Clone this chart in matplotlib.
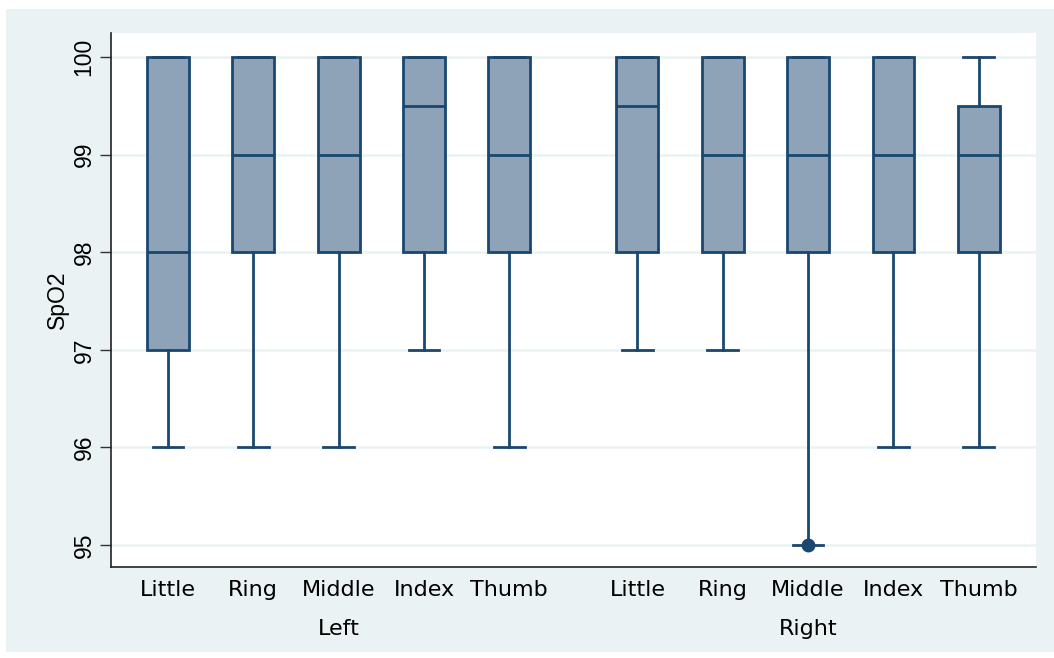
import matplotlib
matplotlib.use("Agg")
import matplotlib.pyplot as plt
from matplotlib.patches import Rectangle

plt.rcParams["font.family"] = ["Liberation Sans", "DejaVu Sans"]

# finger SpO2 summaries: (lower whisker, q1, median, q3, upper whisker)
fingers = ["Little", "Ring", "Middle", "Index", "Thumb"]
groups = ["Left", "Right"]
whislo = [96, 96, 96, 97, 96, 97, 97, 95, 96, 96]
q1 = [97, 98, 98, 98, 98, 98, 98, 98, 98, 98]
med = [98, 99, 99, 99.5, 99, 99.5, 99, 99, 99, 99]
q3 = [100, 100, 100, 100, 100, 100, 100, 100, 100, 99.5]
whishi = [100, 100, 100, 100, 100, 100, 100, 100, 100, 100]
fliers = [[], [], [], [], [], [], [], [95], [], []]
yticks = [95, 96, 97, 98, 99, 100]

positions = [1, 2, 3, 4, 5, 6.5, 7.5, 8.5, 9.5, 10.5]
navy = "#1A476F"
fill = "#8EA3B8"
bg = "#EAF2F3"
wide = ["DejaVu Sans"]  # reference text along x looks stretched, wider face fits

fig = plt.figure(figsize=(10.54, 6.58), dpi=100)
fig.patch.set_facecolor("white")
fig.patches.append(Rectangle((6 / 1054, 1 - 652 / 658), 1, (652 - 9) / 658,
                             transform=fig.transFigure, facecolor=bg,
                             edgecolor="none", zorder=-10))

ax = fig.add_axes([111 / 1054, 1 - 567 / 658, (1036 - 111) / 1054, (567 - 33) / 658])
ax.set_facecolor("white")

stats = []
for i in range(len(positions)):
    stats.append(dict(whislo=whislo[i], q1=q1[i], med=med[i], q3=q3[i],
                      whishi=whishi[i], fliers=fliers[i]))

lw = 2.0
ax.bxp(stats, positions=positions, widths=0.49, capwidths=0.36,
       patch_artist=True, showfliers=True,
       boxprops=dict(facecolor=fill, edgecolor=navy, linewidth=lw),
       medianprops=dict(color=navy, linewidth=lw),
       whiskerprops=dict(color=navy, linewidth=lw),
       capprops=dict(color=navy, linewidth=lw),
       flierprops=dict(marker="o", markerfacecolor=navy, markeredgecolor=navy,
                       markersize=9))

ax.set_xlim(0.333, 11.17)
ax.set_ylim(94.775, 100.246)
ax.set_yticks(yticks)
ax.set_yticklabels([str(v) for v in yticks], rotation=90, va="center", fontsize=16.5)
ax.yaxis.grid(True, color=bg, linewidth=1.8)
ax.set_axisbelow(True)
ax.tick_params(axis="y", length=8, width=1, color="#333333", pad=3)
ax.tick_params(axis="x", length=0, pad=9)
ax.set_xticks(positions)
ax.set_xticklabels(fingers * 2, fontsize=16, family=wide)

for side in ["top", "right"]:
    ax.spines[side].set_visible(False)
for side in ["left", "bottom"]:
    ax.spines[side].set_color("#222222")
    ax.spines[side].set_linewidth(1.2)

ax.set_ylabel("SpO2", fontsize=16.5, labelpad=3)

# group labels under the finger labels
for g, center in zip(groups, [3, 8.5]):
    ax.text(center, -0.117, g, transform=ax.get_xaxis_transform(),
            ha="center", va="center", fontsize=16, family=wide)

fig.savefig("out.png", dpi=100, facecolor=fig.get_facecolor())
